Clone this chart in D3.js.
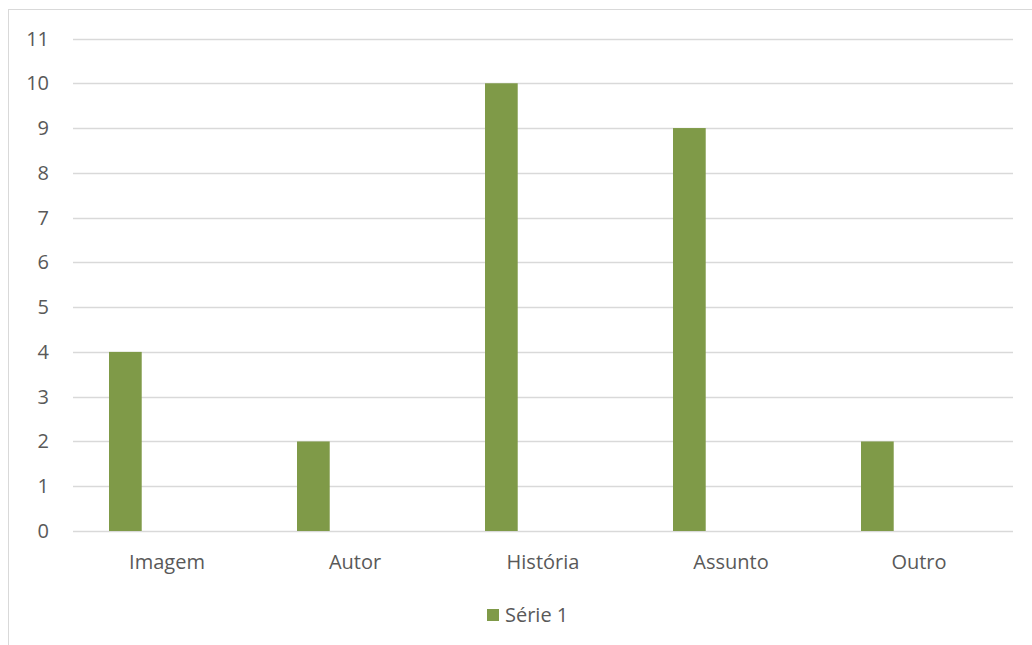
<!DOCTYPE html>
<html><head><meta charset="utf-8">
<script src="https://cdn.jsdelivr.net/npm/d3@7"></script>
<style>body{margin:0;background:#fff}svg{display:block}text{font-family:"Open Sans",sans-serif;fill:#595959}</style>
</head><body><svg id="c" width="1032" height="645"></svg>
<script>
const categories = ["Imagem","Autor","História","Assunto","Outro"];
const serie1 = [4,2,10,9,2];
const seriesName = "Série 1";
const yTicks = [0,1,2,3,4,5,6,7,8,9,10,11];

const svg = d3.select("#c");
svg.append("rect").attr("x",8.5).attr("y",9.5).attr("width",1030).attr("height",650)
  .attr("fill","#fff").attr("stroke","#d9d9d9");
const L=73,R=1013,T=38.5,B=531;
const x = d3.scaleBand().domain(categories).range([L,R]).padding(0);
const y = d3.scaleLinear().domain([0,11]).range([B,T]);
const g = svg.append("g");
g.selectAll("line.grid").data(yTicks).join("line")
  .attr("x1",L).attr("x2",R).attr("y1",d=>Math.round(y(d))+0.5).attr("y2",d=>Math.round(y(d))+0.5)
  .attr("stroke","#d9d9d9").attr("stroke-width",1.4);
g.selectAll("text.yl").data(yTicks).join("text")
  .attr("x",49).attr("y",d=>y(d)).attr("dy","0.35em").attr("text-anchor","end")
  .attr("font-size",20).text(d=>d);
const bw=x.bandwidth();
g.selectAll("rect.bar").data(categories).join("rect")
  .attr("x",d=>x(d)+bw*0.1915).attr("width",bw*0.174)
  .attr("y",(d,i)=>y(serie1[i])).attr("height",(d,i)=>B-y(serie1[i]))
  .attr("fill","#7f9a48");
g.selectAll("text.xl").data(categories).join("text")
  .attr("x",d=>x(d)+bw/2).attr("y",562).attr("dy","0.35em").attr("text-anchor","middle")
  .attr("font-size",20).text(d=>d);
svg.append("rect").attr("x",487).attr("y",609).attr("width",12).attr("height",12).attr("fill","#7f9a48");
svg.append("text").attr("x",505).attr("y",615).attr("dy","0.35em").attr("font-size",20).text(seriesName);
</script></body></html>
